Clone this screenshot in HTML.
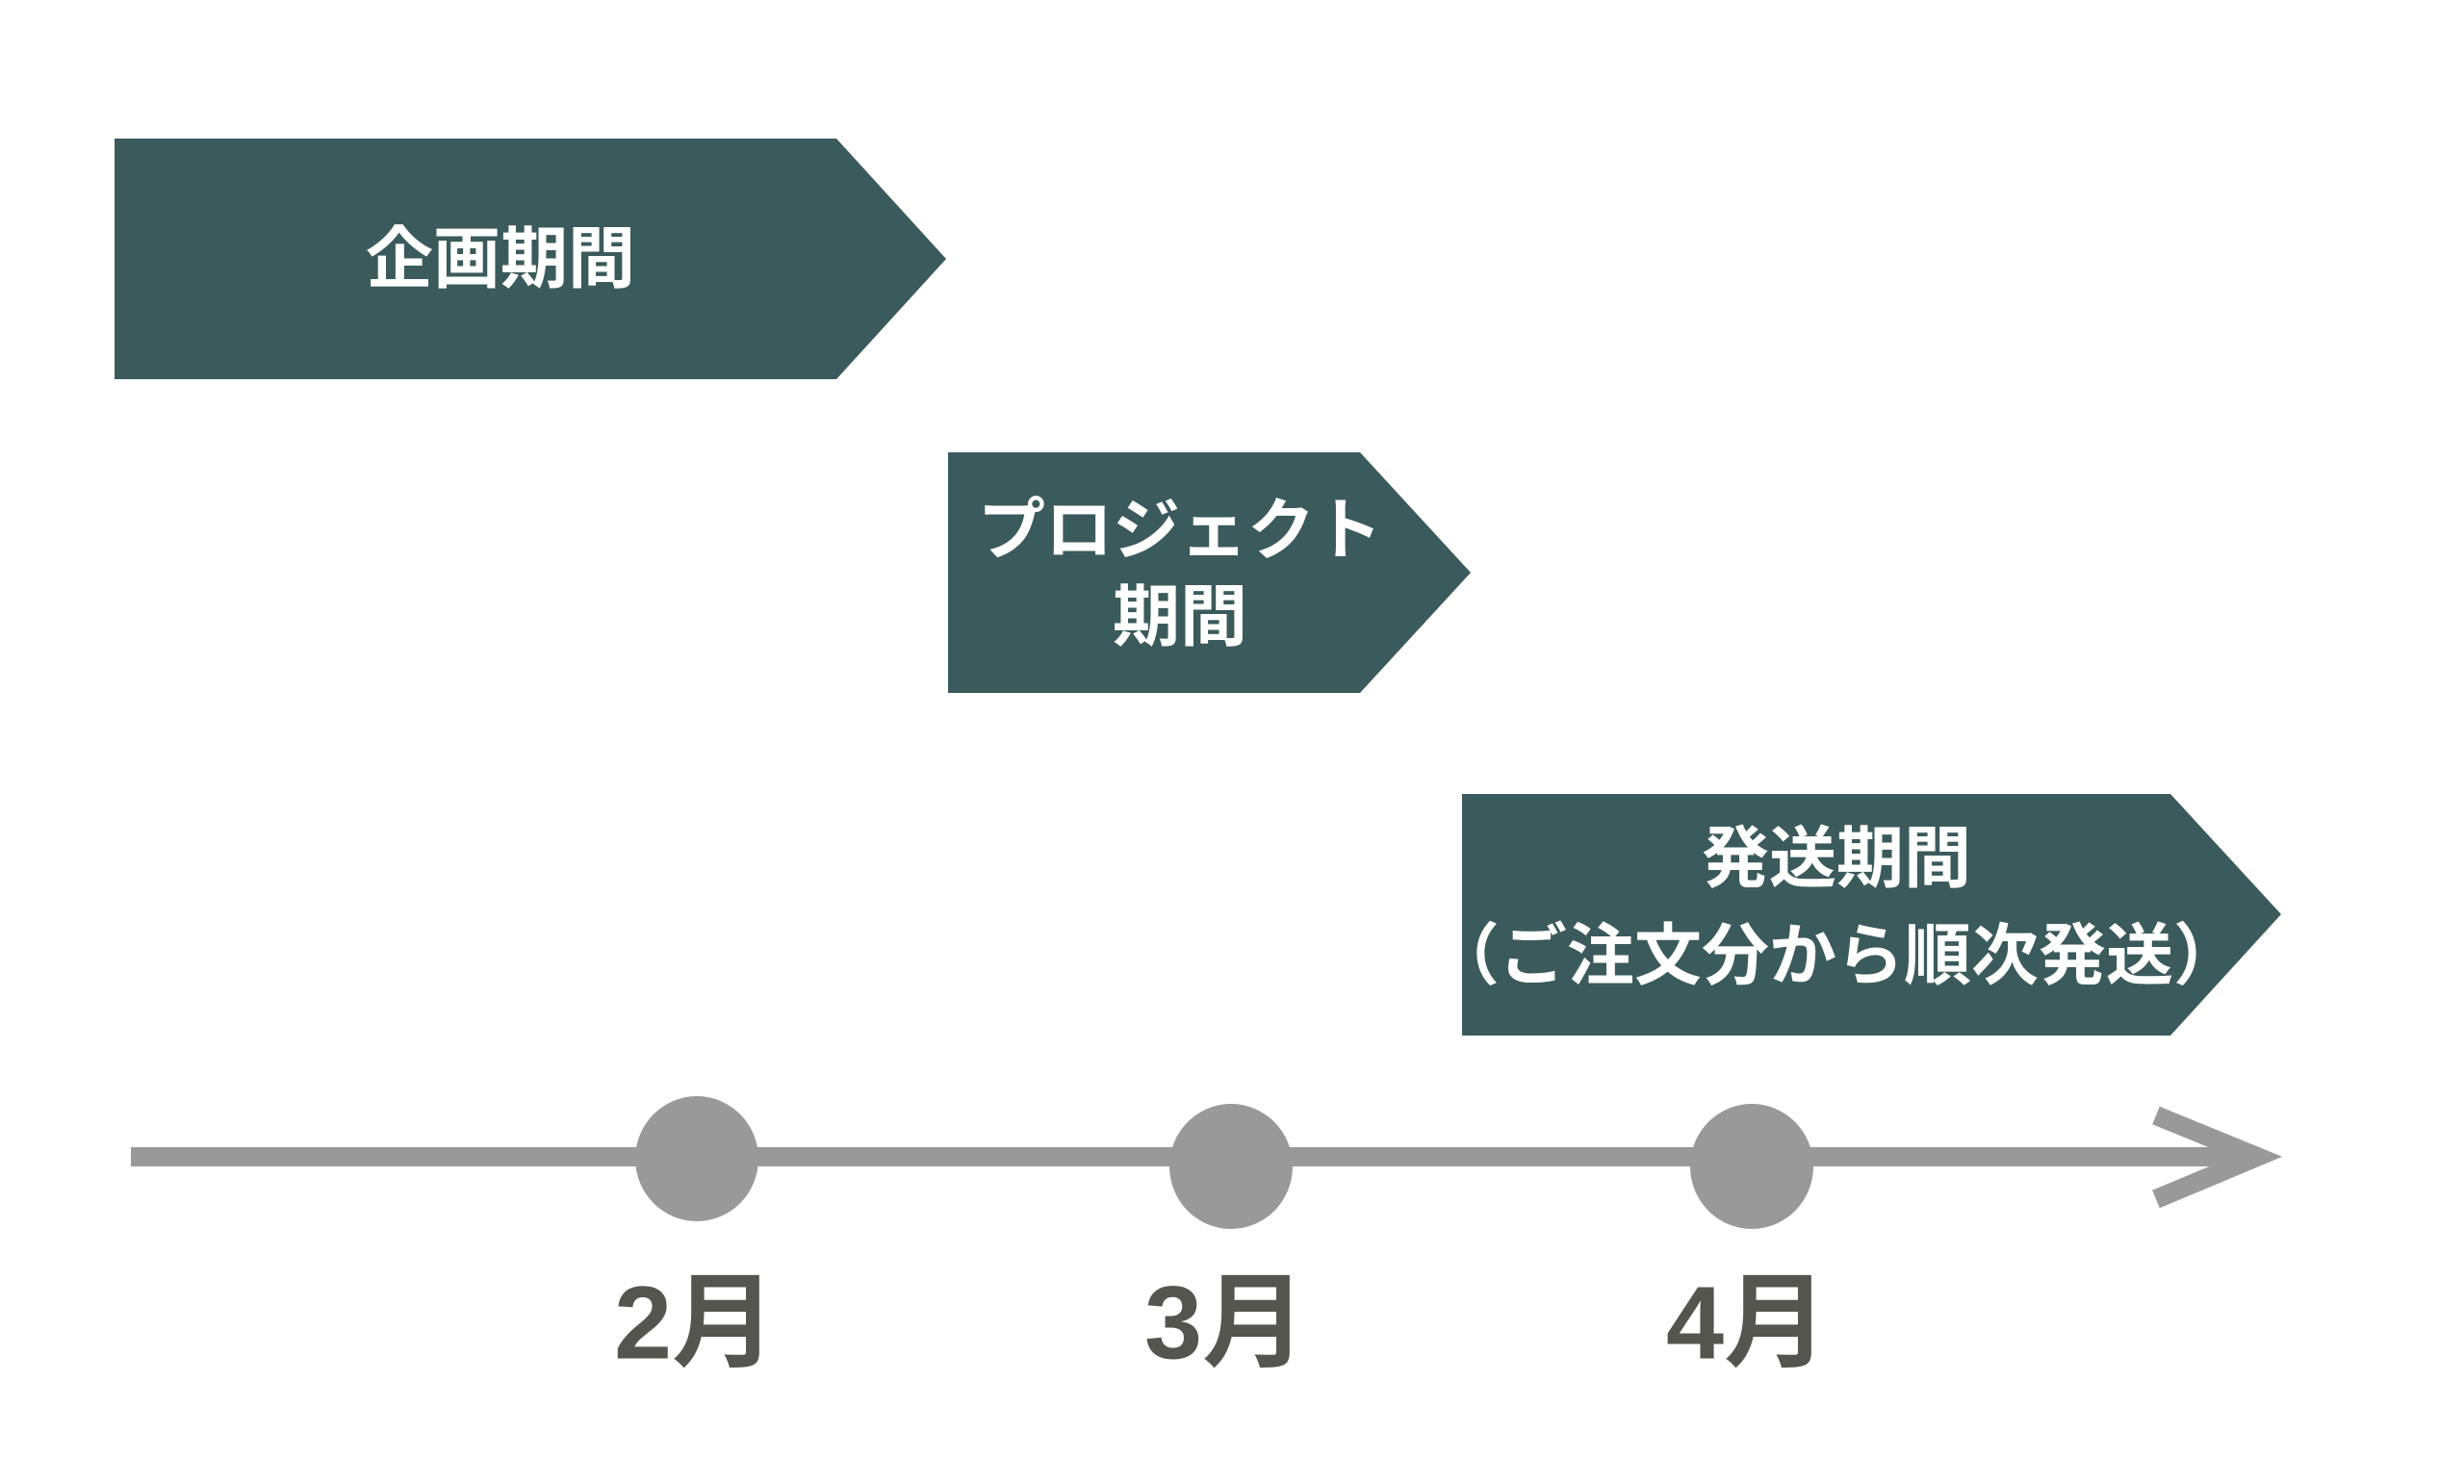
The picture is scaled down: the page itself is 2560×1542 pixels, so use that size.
<!DOCTYPE html>
<html><head><meta charset="utf-8"><style>
body{margin:0;background:#fff;}
.t{font-family:"Liberation Sans","Noto Sans CJK JP",sans-serif;font-weight:bold;}
</style></head><body>
<svg width="2560" height="1537" viewBox="0 0 2560 1537" xmlns="http://www.w3.org/2000/svg">
<rect width="2560" height="1537" fill="#fff"/>
<g fill="#3b5a5c">
<polygon points="119,144 869,144 983,269 869,394 119,394"/>
<polygon points="985,470 1413,470 1528,595 1413,720 985,720"/>
<polygon points="1519,825 2255,825 2370,950 2255,1076 1519,1076"/>
</g>
<g class="t" fill="#fff" font-size="70" text-anchor="middle" dominant-baseline="central">
<text x="520" y="269">企画期間</text>
<text x="1226" y="551">プロジェクト</text>
<text x="1226" y="641">期間</text>
<text x="1908" y="892">発送期間</text>
<text x="1908" y="993">（ご注文分から順次発送）</text>
</g>
<rect x="136" y="1192" width="2200" height="20" fill="#999"/>
<polyline points="2240,1159 2345,1202 2240,1246" fill="none" stroke="#999" stroke-width="20"/>
<g fill="#999">
<ellipse cx="724" cy="1204" rx="64" ry="65"/>
<ellipse cx="1279" cy="1212" rx="64" ry="65"/>
<ellipse cx="1820" cy="1212" rx="64" ry="65"/>
</g>
<g class="t" fill="#555550" font-size="108" text-anchor="middle" dominant-baseline="central">
<text x="722" y="1374">2月</text>
<text x="1273" y="1374">3月</text>
<text x="1815" y="1374">4月</text>
</g>
</svg>
</body></html>
